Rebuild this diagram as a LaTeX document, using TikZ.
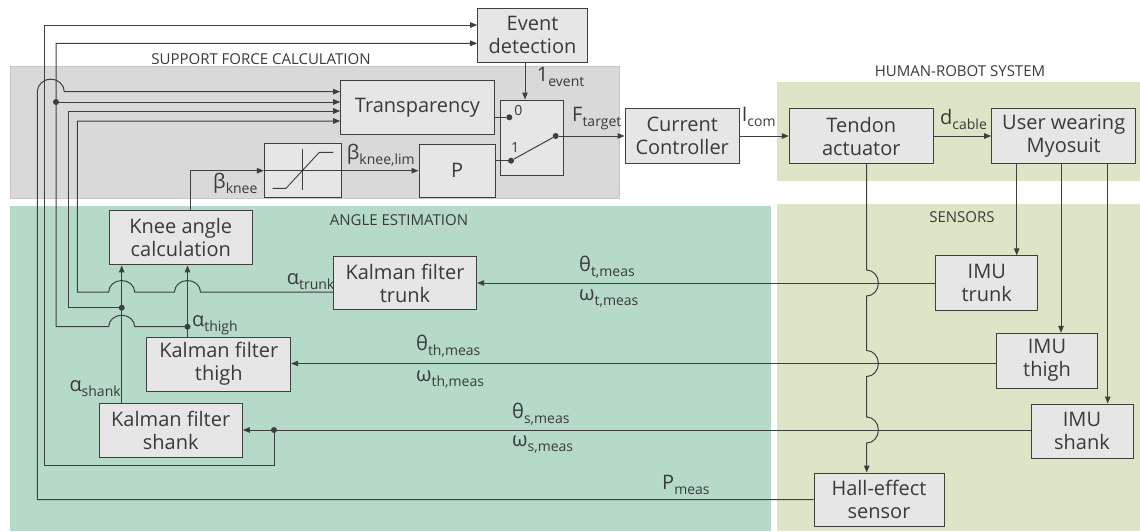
\documentclass[tikz,border=0pt]{standalone}
\usepackage{fontspec}
\setmainfont{Open Sans}
\usetikzlibrary{arrows.meta}

\definecolor{linec}{HTML}{3F3F3F}
\definecolor{textc}{HTML}{3A3A3A}
\definecolor{boxfill}{HTML}{E6E6E6}
\definecolor{grayzone}{HTML}{D9D9D9}
\definecolor{grayedge}{HTML}{C6C6C6}
\definecolor{tealzone}{HTML}{B5DAC8}
\definecolor{olivezone}{HTML}{DCE6C7}

% lowered, smaller subscript text in the body font
\newcommand{\lowsub}[1]{\raisebox{-5pt}{\fontsize{14}{14}\selectfont #1}}

\tikzset{
  blk/.style={draw=linec, fill=boxfill, line width=1pt, align=center,
    inner sep=0pt, text=textc, font=\fontsize{20}{23}\selectfont},
  wire/.style={draw=linec, line width=1pt},
  arr/.style={wire, -{Triangle[length=7pt,width=5.5pt]}},
  lbl/.style={text=textc, font=\fontsize{20}{23}\selectfont, inner sep=0pt, anchor=base west},
  swlbl/.style={text=textc, font=\fontsize{14}{14}\selectfont, inner sep=0pt},
  zonelbl/.style={text=textc, font=\fontsize{15}{18}\selectfont, inner sep=0pt, anchor=base},
  dot/.style={fill=linec, circle, inner sep=0pt, minimum size=6pt},
  jumpup/.style={x radius=13pt, y radius=11.5pt},
}

\begin{document}
\begin{tikzpicture}[x=1pt, y=-1pt]
\useasboundingbox (0,0) rectangle (1140,531);

% background zones
\fill[grayzone, draw=grayedge, line width=0.8pt] (10,66) rectangle (619.3,198.3);
\fill[tealzone] (10,206) rectangle (770.7,531);
\fill[olivezone] (777.3,81.7) rectangle (1140,181);
\fill[olivezone] (776.7,204) rectangle (1140,531);

\node[zonelbl] (zsfc) at (261,64) {SUPPORT FORCE CALCULATION};
\node[zonelbl] (zhrs) at (960,76.7) {HUMAN-ROBOT SYSTEM};
\node[zonelbl] (zae)  at (399,225) {ANGLE ESTIMATION};
\node[zonelbl] (zsen) at (962,222.7) {SENSORS};

% blocks
\node[blk, minimum width=109.6pt, minimum height=54pt] (evt) at (532.5,35.3) {Event\\detection};
\node[blk, minimum width=153.6pt, minimum height=54pt] (transp) at (417.5,107.7) {Transparency};
\node[blk, minimum width=76.7pt, minimum height=53.8pt] (sat) at (302.7,170.7) {};
\node[blk, minimum width=76.3pt, minimum height=53pt] (P) at (457.2,170.7) {P};
\node[blk, minimum width=62.6pt, minimum height=75pt] (sw) at (532,137.5) {};
\node[blk, minimum width=114.3pt, minimum height=55pt] (cc) at (682.2,136) {Current\\Controller};
\node[blk, minimum width=144pt, minimum height=54.4pt] (tendon) at (861.3,136) {Tendon\\actuator};
\node[blk, minimum width=144pt, minimum height=54.4pt] (user) at (1063.7,136) {User wearing\\Myosuit};
\node[blk, minimum width=143pt, minimum height=54.3pt] (knee) at (180.8,237.8) {Knee angle\\calculation};
\node[blk, minimum width=143.4pt, minimum height=53.3pt] (kft) at (405,283) {Kalman filter\\trunk};
\node[blk, minimum width=143.7pt, minimum height=54pt] (kfth) at (218.8,364) {Kalman filter\\thigh};
\node[blk, minimum width=143.3pt, minimum height=54pt] (kfs) at (170.7,430) {Kalman filter\\shank};
\node[blk, minimum width=101.7pt, minimum height=54.3pt] (imut) at (986.8,283) {IMU\\trunk};
\node[blk, minimum width=101.4pt, minimum height=54.7pt] (imuth) at (1047,360.7) {IMU\\thigh};
\node[blk, minimum width=102pt, minimum height=54pt] (imus) at (1082,431) {IMU\\shank};
\node[blk, minimum width=130pt, minimum height=53pt] (hall) at (879,499.5) {Hall-effect\\sensor};

% saturation characteristic
\draw[wire] (sat.west) -- (sat.east);
\draw[wire, line width=0.9pt] (sat.center |- 0,149) -- (sat.center |- 0,190);
\draw[wire, line width=0.9pt] (272.7,188.3) -- (286,188.3) -- (319.3,152.3) -- (333.3,152.3);

% switch
\node[dot] (d0) at (509.3,117.3) {};
\node[dot] (d1) at (511,160.7) {};
\node[dot] (dout) at (555.7,136) {};
\node[swlbl] (s0) at (518.3,110.5) {0};
\node[swlbl] (s1) at (515,147) {1};
\draw[wire] (transp.east |- d0) -- (d0);
\draw[wire] (P.east |- d1) -- (d1);
\draw[wire] (d1) -- (dout);
\draw[arr] (dout) -- (cc.west);
\draw[arr] (evt.south -| 525,0) -- (sw.north -| 525,0);
\draw[arr] (sat.east) -- (P.west);

% forward path
\draw[arr] (cc.east) -- (tendon.west);
\draw[arr] (tendon.east) -- (user.west);
\draw[arr] (user.south -| 1016.7,0) -- (imut.north -| 1016.7,0);
\draw[arr] (user.south -| 1061,0) -- (imuth.north -| 1061,0);
\draw[arr] (user.south -| 1107.7,0) -- (imus.north -| 1107.7,0);

% measurements into the Kalman filters
\draw[arr] (imut.west) -- (kft.east);
\draw[arr] (imuth.west |- 0,363.5) -- (kfth.east |- 0,363.5);
\draw[arr] (imus.west |- kfs.east) -- (kfs.east);

% tendon position to the Hall-effect sensor, hopping over the IMU lines
\draw[arr] (tendon.south -| 866.7,0) -- (866.7,270)
  arc[start angle=90, end angle=-90, x radius=11.7pt, y radius=13pt] -- (866.7,350.5)
  arc[start angle=90, end angle=-90, x radius=11.7pt, y radius=13pt] -- (866.7,417)
  arc[start angle=90, end angle=-90, x radius=11.7pt, y radius=13pt] -- (hall.north -| 866.7,0);

% segment angles into the knee angle calculation
\coordinate (shdot) at (121.7,307.7);
\coordinate (thdot) at (187.5,326.7);
\coordinate (cdot) at (56,102);
\coordinate (sdot) at (274,430);
\draw[arr] (kfs.north -| 121.7,0) -- (knee.south -| 121.7,0);
\draw[arr] (kfth.north -| 187.5,0) -- (knee.south -| 187.5,0);
\draw[arr] (knee.north -| 190,0) -- (190,170.7) -- (sat.west);

% trunk angle to Transparency
\draw[arr] (kft.west |- 0,292) -- (200.5,292) arc[start angle=0, end angle=180, jumpup]
  -- (134.7,292) arc[start angle=0, end angle=180, jumpup]
  -- (77.3,292) -- (77.3,121) -- (transp.west |- 0,121);
% shank angle to Transparency
\draw[arr] (shdot) -- (68,307.7) -- (68,111) -- (transp.west |- 0,111);
% thigh angle to Transparency and Event detection
\draw[arr] (thdot) -- (134.7,326.7) arc[start angle=0, end angle=180, jumpup]
  -- (56,326.7) -- (56,43.3) -- (evt.west |- 0,43.3);
\draw[arr] (cdot) -- (transp.west |- 0,102);
% shank IMU signals to Event detection
\draw[arr] (sdot) -- (274,465) -- (44.5,465) -- (44.5,25) -- (evt.west |- 0,25);
% pressure measurement to Transparency
\draw[arr] (hall.west) -- (37.3,499.5) -- (37.3,91.7)
  arc[start angle=180, end angle=0, x radius=13.5pt, y radius=12.5pt] -- (transp.west |- 0,91.7);

\node[dot] at (shdot) {};
\node[dot] at (thdot) {};
\node[dot] at (cdot) {};
\node[dot] at (sdot) {};

% signal labels
\node[lbl] (l1ev) at (536.7,81.7) {1\lowsub{event}};
\node[lbl] (lft) at (572,121.7) {F\lowsub{target}};
\node[lbl] (lic) at (741.7,121.7) {I\lowsub{com}};
\node[lbl] (ldc) at (940,124) {d\lowsub{cable}};
\node[lbl] (lbkl) at (346.7,159.5) {β\lowsub{knee,lim}};
\node[lbl] (lbk) at (213,188.3) {β\lowsub{knee}};
\node[lbl] (latr) at (286.7,284.3) {α\lowsub{trunk}};
\node[lbl] (lath) at (192,326) {α\lowsub{thigh}};
\node[lbl] (lash) at (69.3,391.7) {α\lowsub{shank}};
\node[lbl] (ltt) at (579,271.7) {θ\lowsub{t,meas}};
\node[lbl] (lwt) at (579,300) {ω\lowsub{t,meas}};
\node[lbl] (ltth) at (416,350.7) {θ\lowsub{th,meas}};
\node[lbl] (lwth) at (416,381.7) {ω\lowsub{th,meas}};
\node[lbl] (lts) at (512,418) {θ\lowsub{s,meas}};
\node[lbl] (lws) at (512,446) {ω\lowsub{s,meas}};
\node[lbl] (lpm) at (662,489) {P\lowsub{meas}};
\end{tikzpicture}
\end{document}
